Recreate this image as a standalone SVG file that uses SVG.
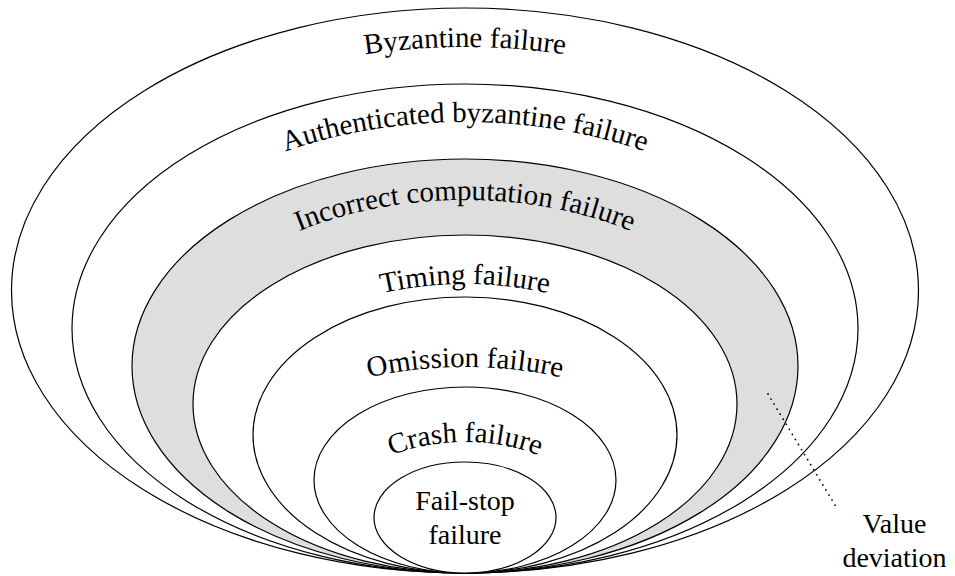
<svg xmlns="http://www.w3.org/2000/svg" width="955" height="576" viewBox="0 0 955 576">
  <style>
    .ring { fill: #ffffff; stroke: #000000; stroke-width: 1.2; }
    .ring.shaded { fill: #dedede; }
    .label { font-family: "Liberation Serif", "Times New Roman", serif; font-size: 28px; fill: #000000; }
    .label.curved { font-size: 29px; }
    .dots { fill: none; stroke: #000000; stroke-width: 1.8; stroke-linecap: round; stroke-dasharray: 0 5.9; }
  </style>
  <defs>
    <!-- baseline arcs for the curved ring labels (upper halves of ellipses) -->
    <path id="arc-byz" d="M 42,310 A 423 263 0 0 1 888,310"/>
    <path id="arc-auth" d="M 102,347.5 A 363 225.5 0 0 1 828,347.5"/>
    <path id="arc-comp" d="M 165,386.5 A 300 186.5 0 0 1 765,386.5"/>
    <path id="arc-timing" d="M 230,429 A 235 145 0 0 1 700,429"/>
    <path id="arc-omission" d="M 245,470 A 220 103 0 0 1 685,470"/>
    <path id="arc-crash" d="M 343,508 A 122 66 0 0 1 587,508"/>
  </defs>

  <g id="byzantine">
    <ellipse class="ring" cx="465" cy="290.5" rx="453.5" ry="282.5"/>
    <text class="label curved" text-anchor="middle"><textPath href="#arc-byz" startOffset="50%">Byzantine failure</textPath></text>
  </g>
  <g id="authenticated-byzantine">
    <ellipse class="ring" cx="465" cy="328.5" rx="393" ry="244.5"/>
    <text class="label curved" text-anchor="middle"><textPath href="#arc-auth" startOffset="50%">Authenticated byzantine failure</textPath></text>
  </g>
  <g id="incorrect-computation">
    <ellipse class="ring shaded" cx="465" cy="366" rx="333" ry="207"/>
    <text class="label curved" text-anchor="middle"><textPath href="#arc-comp" startOffset="50%">Incorrect computation failure</textPath></text>
  </g>
  <g id="timing">
    <ellipse class="ring" cx="465" cy="404" rx="272" ry="169"/>
    <text class="label curved" text-anchor="middle"><textPath href="#arc-timing" startOffset="50%">Timing failure</textPath></text>
  </g>
  <g id="omission">
    <ellipse class="ring" cx="465" cy="435" rx="212" ry="138"/>
    <text class="label curved" text-anchor="middle"><textPath href="#arc-omission" startOffset="50%">Omission failure</textPath></text>
  </g>
  <g id="crash">
    <ellipse class="ring" cx="465" cy="480" rx="151" ry="93"/>
    <text class="label curved" text-anchor="middle"><textPath href="#arc-crash" startOffset="50%">Crash failure</textPath></text>
  </g>
  <g id="fail-stop">
    <ellipse class="ring" cx="465" cy="517.5" rx="91" ry="55.5"/>
    <text class="label" text-anchor="middle" x="465" y="510">Fail-stop</text>
    <text class="label" text-anchor="middle" x="465" y="544">failure</text>
  </g>

  <g id="connectors">
    <line class="dots" x1="768" y1="394" x2="838" y2="510"/>
  </g>

  <g id="value-deviation">
    <text class="label" text-anchor="middle" x="894.5" y="533">Value</text>
    <text class="label" text-anchor="middle" x="894.5" y="567">deviation</text>
  </g>
</svg>
